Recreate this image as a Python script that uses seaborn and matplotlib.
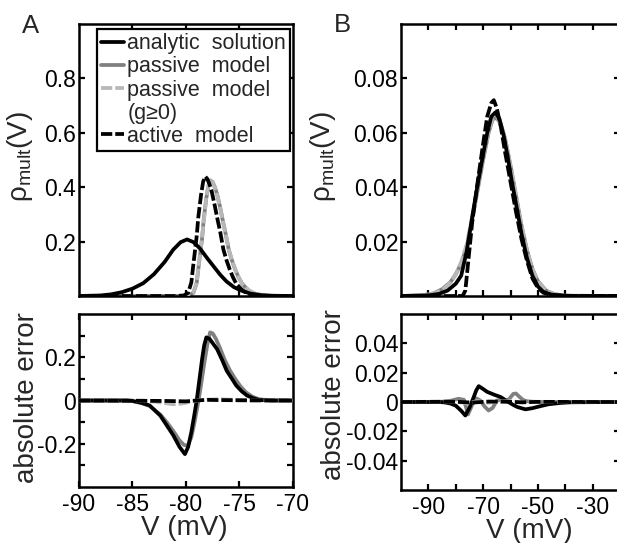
import matplotlib
matplotlib.use("Agg")
import matplotlib.pyplot as plt
import numpy as np
import pandas as pd
import seaborn as sns
from matplotlib.lines import Line2D

# ---------------- data ----------------
# Panel A, top: rho_mult (V) vs V (mV)
A_analytic_V = [-90, -88, -87, -86, -85, -84, -83, -82, -81.2, -80.5, -79.9, -79.3, -78.7,
                -78, -77.4, -76.8, -76.2, -75.5, -74.9, -74, -73, -72, -70]
A_analytic_r = [0, 0.002, 0.006, 0.014, 0.027, 0.047, 0.08, 0.125, 0.17, 0.198, 0.208, 0.198,
                0.175, 0.138, 0.108, 0.078, 0.053, 0.032, 0.021, 0.009, 0.003, 0.001, 0]

A_active_V = [-90, -81, -80.2, -79.8, -79.5, -79.3, -79.0, -78.85, -78.6, -78.4, -78.2, -78.0,
              -77.8, -77.6, -77.3, -77.1, -76.8, -76.5, -76.2, -75.9, -75.6, -75.3, -74.9,
              -74.6, -74.0, -73.0, -72, -70]
A_active_r = [0, 0, 0.002, 0.012, 0.05, 0.12, 0.22, 0.29, 0.37, 0.42, 0.439, 0.43, 0.41, 0.385,
              0.33, 0.29, 0.235, 0.17, 0.13, 0.096, 0.068, 0.045, 0.028, 0.017, 0.006, 0.001, 0, 0]

A_passive_V = [-90, -80.5, -79.7, -79.3, -79.0, -78.8, -78.5, -78.35, -78.1, -77.9, -77.7, -77.5,
               -77.3, -77.1, -76.8, -76.6, -76.3, -76.0, -75.7, -75.4, -75.1, -74.8, -74.4,
               -74.1, -73.5, -72.5, -71.5, -70]
A_passive_r = [0, 0, 0.002, 0.012, 0.048, 0.115, 0.21, 0.28, 0.36, 0.405, 0.425, 0.418, 0.4,
               0.375, 0.325, 0.285, 0.23, 0.17, 0.13, 0.097, 0.07, 0.048, 0.03, 0.019, 0.007,
               0.0015, 0, 0]

A_passg_V = [-90, -80.5, -79.7, -79.3, -79.0, -78.8, -78.5, -78.3, -78.1, -77.9, -77.7, -77.5,
             -77.3, -77.1, -76.8, -76.6, -76.3, -76.0, -75.7, -75.4, -75.1, -74.8, -74.4,
             -74.1, -73.5, -72.5, -71.5, -70]
A_passg_r = [0, 0, 0.003, 0.014, 0.05, 0.118, 0.215, 0.29, 0.365, 0.408, 0.423, 0.417, 0.398,
             0.372, 0.322, 0.283, 0.229, 0.171, 0.131, 0.098, 0.071, 0.049, 0.031, 0.02, 0.008,
             0.002, 0, 0]

# Panel A, bottom: absolute error
A_err_black_V = [-90, -85.5, -85, -84.2, -83.4, -82.4, -81.8, -81.2, -80.6, -80.1, -79.8, -79.5,
                 -79.25, -79.0, -78.75, -78.5, -78.3, -78.1, -77.8, -77.5, -77.1, -76.6, -76.2,
                 -75.7, -75.3, -74.8, -74.3, -73.7, -73.1, -72, -70]
A_err_black = [0, 0, -0.002, -0.01, -0.023, -0.07, -0.115, -0.16, -0.215, -0.248, -0.215,
               -0.146, -0.075, 0.0, 0.095, 0.19, 0.255, 0.292, 0.285, 0.265, 0.238, 0.185, 0.138,
               0.1, 0.069, 0.043, 0.023, 0.01, 0.002, 0, 0]

A_err_gray_V = [-90, -85.5, -85, -84.2, -83.4, -82.4, -81.8, -81.2, -80.6, -80.2, -79.85, -79.5,
                -79.2, -78.9, -78.6, -78.3, -78.0, -77.75, -77.5, -77.2, -76.8, -76.4, -75.9,
                -75.4, -74.9, -74.4, -73.8, -73.2, -72, -70]
A_err_gray = [0, 0, -0.003, -0.012, -0.025, -0.065, -0.1, -0.14, -0.185, -0.205, -0.21, -0.17,
              -0.1, -0.02, 0.07, 0.17, 0.26, 0.315, 0.31, 0.285, 0.24, 0.19, 0.14, 0.1, 0.065,
              0.038, 0.018, 0.006, 0, 0]

A_err_gdash_V = [-90, -84, -83, -82, -81.2, -80.4, -79.6, -79, -78, -77, -76, -75, -74, -70]
A_err_gdash = [0, -0.001, -0.005, -0.012, -0.017, -0.014, -0.006, 0.0, 0.004, 0.006, 0.004,
               0.002, 0.0, 0]

A_err_adash_V = [-90, -82, -80, -79, -78, -77, -75, -70]
A_err_adash = [0, -0.002, -0.004, 0.0, 0.003, 0.002, 0.001, 0]

# Panel B, top
B_analytic_V = [-100, -90, -86, -83, -80, -78, -76, -74, -72, -70, -68.5, -67, -65.5, -64,
                -62.5, -61, -59.5, -58, -56, -54, -52, -50, -48, -45, -40, -35, -20]
B_analytic_r = [0, 0.0002, 0.0008, 0.002, 0.0045, 0.0075, 0.0165, 0.029, 0.041, 0.052, 0.06,
                0.066, 0.0675, 0.065, 0.059, 0.051, 0.042, 0.034, 0.023, 0.014, 0.0075, 0.0035,
                0.0015, 0.0005, 0.0001, 0, 0]

B_active_V = [-100, -77.5, -76.5, -75.5, -74, -72, -70, -68.5, -67, -66.1, -65, -63.5, -62, -60,
              -58, -56, -54, -52, -50, -48, -45, -40, -20]
B_active_r = [0, 0, 0.002, 0.012, 0.027, 0.042, 0.056, 0.066, 0.071, 0.072, 0.069, 0.062, 0.053,
              0.042, 0.031, 0.021, 0.013, 0.0065, 0.003, 0.0012, 0.0003, 0, 0]

B_passive_V = [-100, -92, -88, -85, -82, -80, -78, -76, -74, -72, -70, -68, -66.5, -65, -63.5,
               -62, -60, -58, -56, -54, -52, -50, -47, -44, -40, -20]
B_passive_r = [0, 0.0003, 0.001, 0.0025, 0.005, 0.008, 0.012, 0.018, 0.028, 0.039, 0.05, 0.06,
               0.065, 0.0655, 0.063, 0.058, 0.048, 0.037, 0.026, 0.017, 0.01, 0.0055, 0.002,
               0.0007, 0.0001, 0]

B_passg_V = [-100, -92, -88, -85, -82, -80, -78, -76, -74, -72, -70, -68, -66.5, -65, -63.5,
             -62, -60, -58, -56, -54, -52, -50, -47, -44, -40, -20]
B_passg_r = [0, 0.0002, 0.0009, 0.0022, 0.0048, 0.0078, 0.0125, 0.019, 0.029, 0.04, 0.051,
             0.0605, 0.0655, 0.066, 0.0632, 0.0578, 0.0478, 0.0368, 0.0258, 0.0168, 0.0098,
             0.0053, 0.0019, 0.0006, 0.0001, 0]

# Panel B, bottom
B_err_black_V = [-100, -86, -84, -82, -80, -78, -76.5, -75, -73.5, -72.5, -71.6, -70.5, -68.5,
                 -66, -63.6, -61.2, -59, -57.5, -55.5, -54.5, -52, -49, -46, -42, -38, -20]
B_err_black = [0, 0, -0.0003, -0.001, -0.0025, -0.006, -0.0092, -0.004, 0.003, 0.008, 0.0108,
               0.0095, 0.0069, 0.005, 0.0034, 0.0005, -0.002, -0.0034, -0.0045, -0.005, -0.0042,
               -0.0028, -0.0015, -0.0007, -0.0002, 0]

B_err_gray_V = [-100, -86, -82, -79, -77, -75.5, -74, -72.5, -71, -69.5, -68, -66.5, -65, -63.5,
                -62, -60.5, -59, -58, -57, -55.5, -54, -52, -49, -45, -20]
B_err_gray = [0, 0, 0.0008, 0.0022, 0.0015, -0.0085, -0.002, 0.0025, 0.001, -0.003, -0.0058,
              -0.004, 0.001, 0.0015, 0.0005, 0.002, 0.0055, 0.0058, 0.004, 0.0015, 0.0005,
              0.0002, 0, 0, 0]

B_err_gdash_V = [-100, -80, -76, -72, -68, -64, -60, -56, -50, -20]
B_err_gdash = [0, 0.0003, -0.0008, 0.0006, -0.0005, 0.0004, 0.0006, -0.0003, 0.0001, 0]

B_err_adash_V = [-100, -80, -74, -68, -62, -56, -50, -20]
B_err_adash = [0, 0.0002, -0.0004, 0.0003, 0.0002, -0.0002, 0.0001, 0]

legend_labels = ["analytic  solution", "passive  model", "passive  model", "(g\u22650)", "active  model"]

# ---------------- style ----------------
sns.set_style("ticks")
plt.rcParams['font.family'] = ['Liberation Sans', 'DejaVu Sans']
plt.rcParams['mathtext.fontset'] = 'custom'
plt.rcParams['mathtext.rm'] = 'Liberation Sans'
plt.rcParams['mathtext.it'] = 'Liberation Sans:italic'
plt.rcParams['axes.unicode_minus'] = False

BLACK = "#000000"
GRAY = "#808080"
LGRAY = "#b8b8b8"
LW = 2.7
DASH = (3, 0.8)

W, H = 617, 543
fig = plt.figure(figsize=(W / 100, H / 100), dpi=100)


def rect(l, t, r, b):
    return [l / W, 1 - b / H, (r - l) / W, (b - t) / H]


axA1 = fig.add_axes(rect(79, 24, 293, 296))
axA2 = fig.add_axes(rect(79, 314, 293, 487))
axB1 = fig.add_axes(rect(401, 24, 620, 296))
axB2 = fig.add_axes(rect(401, 314, 620, 490))


def draw(ax, xs, ys, color, dashed=False, z=2):
    df = pd.DataFrame({"V": xs, "y": ys})
    sns.lineplot(data=df, x="V", y="y", ax=ax, color=color, lw=LW, zorder=z,
                 dashes=False, estimator=None, sort=True)
    line = ax.get_lines()[-1]
    if dashed:
        line.set_dashes(DASH)
    line.set_solid_capstyle("butt")
    return line


# Panel A top
draw(axA1, A_passive_V, A_passive_r, GRAY, z=2)
draw(axA1, A_passg_V, A_passg_r, LGRAY, dashed=True, z=3)
draw(axA1, A_analytic_V, A_analytic_r, BLACK, z=4)
draw(axA1, A_active_V, A_active_r, BLACK, dashed=True, z=5)

# Panel A bottom
draw(axA2, A_err_gray_V, A_err_gray, GRAY, z=2)
draw(axA2, A_err_black_V, A_err_black, BLACK, z=3)
draw(axA2, A_err_gdash_V, A_err_gdash, LGRAY, dashed=True, z=4)
draw(axA2, A_err_adash_V, A_err_adash, BLACK, dashed=True, z=5)

# Panel B top
draw(axB1, B_passive_V, B_passive_r, GRAY, z=2)
draw(axB1, B_passg_V, B_passg_r, LGRAY, dashed=True, z=3)
draw(axB1, B_analytic_V, B_analytic_r, BLACK, z=4)
draw(axB1, B_active_V, B_active_r, BLACK, dashed=True, z=5)

# Panel B bottom
draw(axB2, B_err_gray_V, B_err_gray, GRAY, z=2)
draw(axB2, B_err_black_V, B_err_black, BLACK, z=3)
draw(axB2, B_err_gdash_V, B_err_gdash, LGRAY, dashed=True, z=4)
draw(axB2, B_err_adash_V, B_err_adash, BLACK, dashed=True, z=5)

TICK_FS = 16.5
for ax in (axA1, axA2, axB1, axB2):
    ax.set_xlabel("")
    ax.set_ylabel("")
    for s in ax.spines.values():
        s.set_visible(True)
        s.set_linewidth(1.8)
        s.set_color("black")
    ax.tick_params(which="both", direction="in", length=4.2, width=1.6, top=True, right=True,
                   labelsize=TICK_FS, colors="black")
    ax.tick_params(axis="y", which="both", pad=2)
    ax.tick_params(axis="x", which="both", pad=4)
    ax.grid(False)

# A top
axA1.set_xlim(-90, -70)
axA1.set_ylim(0, 1.0)
axA1.set_xticks([-85, -80, -75])
axA1.tick_params(axis="x", labelbottom=False)
axA1.set_yticks([0.2, 0.4, 0.6, 0.8])
axA1.set_yticklabels(["0.2", "0.4", "0.6", "0.8"])

# A bottom
axA2.set_xlim(-90, -70)
axA2.set_ylim(-0.4, 0.4)
axA2.set_xticks([-90, -85, -80, -75, -70])
axA2.set_xticklabels(["-90", "-85", "-80", "-75", "-70"])
axA2.set_yticks([-0.2, 0, 0.2])
axA2.set_yticklabels(["-0.2", "0", "0.2"])
axA2.set_yticks([-0.3, -0.1, 0.1, 0.3], minor=True)

# B top
axB1.set_xlim(-100, -20)
axB1.set_ylim(0, 0.1)
axB1.set_xticks([-90, -80, -70, -60, -50, -40, -30])
axB1.tick_params(axis="x", labelbottom=False)
axB1.set_yticks([0.02, 0.04, 0.06, 0.08])
axB1.set_yticklabels(["0.02", "0.04", "0.06", "0.08"])

# B bottom
axB2.set_xlim(-100, -20)
axB2.set_ylim(-0.06, 0.06)
axB2.set_xticks([-90, -70, -50, -30])
axB2.set_xticklabels(["-90", "-70", "-50", "-30"])
axB2.set_xticks([-80, -60, -40], minor=True)
axB2.set_yticks([-0.04, -0.02, 0, 0.02, 0.04])
axB2.set_yticklabels(["-0.04", "-0.02", "0", "0.02", "0.04"])

# Legend (panel A top)
handles = [
    Line2D([], [], color=BLACK, lw=LW),
    Line2D([], [], color=GRAY, lw=LW),
    Line2D([], [], color=LGRAY, lw=LW, dashes=DASH),
    Line2D([], [], color="none", lw=0),
    Line2D([], [], color=BLACK, lw=LW, dashes=DASH),
]
leg = axA1.legend(handles, legend_labels, loc="upper left",
                  bbox_to_anchor=((97 - 79) / 214, (296 - 29) / 272),
                  borderaxespad=0, fontsize=15.5, handlelength=1.05, handletextpad=0.15,
                  labelspacing=0.1, borderpad=0.2, frameon=True, fancybox=False,
                  framealpha=1, edgecolor="black")
leg.get_frame().set_linewidth(1.6)

# Axis labels and panel letters
LAB_FS = 20
fig.text(20 / W, 1 - 157 / H, r"ρ$_{\mathrm{mult}}$(V)", rotation=90, ha="center", va="center",
         fontsize=LAB_FS)
fig.text(323 / W, 1 - 157 / H, r"ρ$_{\mathrm{mult}}$(V)", rotation=90, ha="center", va="center",
         fontsize=LAB_FS)
fig.text(27 / W, 1 - 398 / H, "absolute error", rotation=90, ha="center", va="center",
         fontsize=LAB_FS)
fig.text(334 / W, 1 - 395 / H, "absolute error", rotation=90, ha="center", va="center",
         fontsize=LAB_FS)
fig.text(184 / W, 1 - 528 / H, "V (mV)", ha="center", va="center", fontsize=LAB_FS)
fig.text(529 / W, 1 - 531 / H, "V (mV)", ha="center", va="center", fontsize=LAB_FS)
fig.text(22 / W, 1 - 33 / H, "A", ha="left", va="baseline", fontsize=18.5)
fig.text(334 / W, 1 - 32 / H, "B", ha="left", va="baseline", fontsize=18.5)

fig.savefig("out.png", dpi=100, facecolor="white")
